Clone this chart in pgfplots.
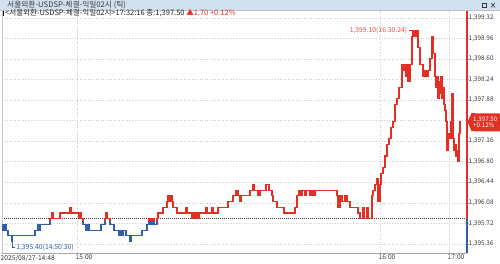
\documentclass[border=0pt]{standalone}
\usepackage{pgfplots}
\pgfplotsset{compat=1.18}
\usepackage{pgfplotstable}
\usetikzlibrary{calc}
\usepackage{fontspec}
\setmainfont{Noto Sans CJK KR}
\definecolor{upred}{RGB}{228,48,36}
\definecolor{dnblue}{RGB}{50,95,170}
\definecolor{barbg}{RGB}{210,225,240}
\definecolor{gridc}{RGB}{205,205,205}
\definecolor{txt}{RGB}{55,55,55}

\pgfplotstableread{
x y
2 1395.60
3 1395.70
4 1395.60
5 1395.70
6 1395.60
8 1395.50
11.5 1395.40
12.5 1395.50
35 1395.60
38 1395.70
39 1395.60
40 1395.70
50 1395.80
52 1395.90
53 1395.80
60 1395.90
70 1396.00
71 1395.90
79 1395.80
80 1395.90
81 1395.80
83 1395.70
86 1395.60
87 1395.70
89 1395.60
101 1395.70
105 1395.80
106 1395.90
107 1395.80
110 1395.70
114 1395.60
119 1395.50
120 1395.60
122 1395.50
123 1395.60
126 1395.50
130 1395.40
131 1395.50
142 1395.60
147 1395.70
149 1395.80
150 1395.70
151 1395.80
152 1395.70
153 1395.80
154 1395.70
157 1395.80
158 1395.90
163 1396.00
167 1396.10
168 1396.20
169 1396.10
171 1396.20
172 1396.10
173 1396.00
177 1395.90
186 1396.00
187 1395.90
192 1395.80
193 1395.90
194 1395.80
196 1395.90
197 1395.80
199 1395.90
206 1396.00
207 1395.90
212 1396.00
213 1395.90
218 1396.00
228 1396.10
233 1396.20
236 1396.30
238 1396.20
240 1396.10
241 1396.20
250 1396.30
253 1396.40
254 1396.30
258 1396.20
260 1396.30
266 1396.40
269 1396.30
272 1396.20
273 1396.10
277 1396.00
284 1395.90
295 1396.00
297 1396.20
299 1396.30
301 1396.20
302 1396.30
305 1396.20
306 1396.30
310 1396.20
311 1396.30
312 1396.20
313 1396.30
314 1396.20
315 1396.30
337 1396.20
338 1396.00
340 1396.20
342 1396.10
345 1396.20
347 1396.10
350 1396.00
358 1395.90
360 1395.80
363 1396.00
364 1395.80
367 1396.00
368 1395.80
372 1396.20
373 1396.30
375 1396.40
377 1396.50
378 1396.10
380 1396.40
381 1396.60
383 1396.70
385 1396.90
387 1397.10
389 1397.20
391 1397.40
393 1397.50
395 1397.80
397 1397.90
399 1398.10
402 1398.50
404 1398.40
405 1398.50
406 1398.30
407 1398.50
408 1398.20
410 1398.50
412 1399.00
413 1399.10
415 1399.00
416 1399.10
418 1398.80
420 1398.50
423 1398.30
425 1398.40
427 1398.30
428 1398.40
430 1398.60
432 1399.00
433 1398.70
435 1398.30
436 1398.10
437 1398.30
438 1397.90
439 1398.20
440 1398.00
441 1398.30
442 1397.90
443 1398.10
444 1397.80
445 1397.70
446 1397.50
447 1397.00
448 1397.30
449 1397.20
451 1397.50
452 1398.00
453 1397.20
454 1397.00
455 1397.10
456 1396.90
457 1397.00
458 1396.80
459 1397.30
460 1397.50
461 1397.50
}\ticks

\begin{document}
\begin{tikzpicture}[x=1pt,y=1pt]
\path[use as bounding box] (0,0) rectangle (500,264);
% title bar
\fill[barbg] (0,254) rectangle (500,264);
\draw[gray!50] (0,254) -- (500,254);
\node[anchor=west,font=\fontsize{7.7}{8.5}\selectfont,text=txt,inner sep=0] at (7,259.1) {서울외환-USDSP-체결-익일02시 (틱)};
\draw[txt,line width=0.6pt] (482,256.5) rectangle (486.5,261);
\draw[txt,line width=0.6pt] (491,256.5) -- (495,261) (491,261) -- (495,256.5);

\begin{axis}[
  at={(2pt,11pt)}, anchor=south west,
  width=465pt, height=242pt, scale only axis,
  xmin=2, xmax=467, ymin=1395.20, ymax=1399.44,
  axis x line*=bottom, axis y line*=right,
  x axis line style={draw=gray!70, -},
  y axis line style={draw=none},
  xtick={2,77,380,449},
  xticklabels={2025/08/27-14:48,15:00,16:00,17:00},
  ytick={1395.36,1395.72,1396.08,1396.44,1396.80,1397.16,1397.88,1398.24,1398.60,1398.96,1399.32},
  extra y ticks={1397.52}, extra y tick labels={},
  grid=major, grid style={gridc, dash pattern=on 0.8pt off 1.8pt, line width=0.5pt},
  tick align=outside,
  major tick length=2pt,
  x tick style={draw=none},
  y tick style={draw=gray!70},
  /pgf/number format/assume math mode=true,
  yticklabel style={font=\fontsize{6.4}{7}\selectfont, text=txt, anchor=west, xshift=-1.5pt, inner sep=1pt,
    /pgf/number format/fixed, /pgf/number format/fixed zerofill, /pgf/number format/precision=2, /pgf/number format/1000 sep={,}},
  xticklabel style={font=\fontsize{6.7}{7}\selectfont, text=txt, anchor=north west, xshift=-2.5pt, yshift=1.5pt, inner sep=1pt},
  clip=false,
]
\draw[black!75, dash pattern=on 0.8pt off 1.2pt, line width=0.6pt] (axis cs:2,1395.80) -- (axis cs:467,1395.80);
\draw[upred, line width=1.3pt] (axis cs:467,1395.80) -- (axis cs:467,1399.44);
\draw[dnblue, line width=1.3pt] (axis cs:467,1395.20) -- (axis cs:467,1395.80);
\coordinate (peak) at (axis cs:415.5,1399.10);
\coordinate (low) at (axis cs:12,1395.40);
\coordinate (last) at (axis cs:467.5,1397.50);
\end{axis}
\draw[gray!45] (2,11) -- (2,253);
\draw[gray!70] (77,11) -- (77,6) (380,11) -- (380,6) (449,11) -- (449,6);

% red part (above previous close)
\begin{scope}
\clip (2,42.3915) rectangle (467,253);
\begin{axis}[
  at={(2pt,11pt)}, anchor=south west,
  width=465pt, height=242pt, scale only axis,
  xmin=2, xmax=467, ymin=1395.20, ymax=1399.44, hide axis]
\addplot[const plot, upred, line width=1.1pt] table {\ticks};
\end{axis}
\end{scope}
% blue part (below previous close)
\begin{scope}
\clip (2,11) rectangle (467,42.3915);
\begin{axis}[
  at={(2pt,11pt)}, anchor=south west,
  width=465pt, height=242pt, scale only axis,
  xmin=2, xmax=467, ymin=1395.20, ymax=1399.44, hide axis]
\addplot[const plot, dnblue, line width=1.1pt] table {\ticks};
\end{axis}
\end{scope}

% second header line
\fill[black] (2.5,248.3) rectangle (4,253.3);
\node[anchor=west,font=\fontsize{7.5}{8}\selectfont,text=black!85,inner sep=0] at (5,250.8) {<서울외환-USDSP-체결-익일02시>17:32:16 종:1,397.50 \textcolor{upred}{▲1.70 +0.12\%}};

% annotations
\draw[upred, line width=0.6pt] (peak) -- ++(-7,0) node[anchor=east, inner sep=1pt, font=\fontsize{6.8}{7}\selectfont, text=upred!85] {1,399.10(16:30:24)};
\draw[dnblue, line width=0.6pt] (low) -- ++(0,-5.5) -- ++(3,0) node[anchor=west, inner sep=1pt, font=\fontsize{6.8}{7}\selectfont, text=dnblue] {1,395.40(14:50:30)};

% last price box
\fill[upred] (last) -- ++(4,8.5) -- (500,150.5) -- (500,132.5) -- ($(last)+(4,-9.5)$) -- cycle;
\node[align=left, anchor=west, font=\fontsize{6.2}{6.6}\selectfont, text=white, inner sep=0] at ($(last)+(5.5,-0.5)$) {1,397.50\\+0.12\%};
\end{tikzpicture}
\end{document}
